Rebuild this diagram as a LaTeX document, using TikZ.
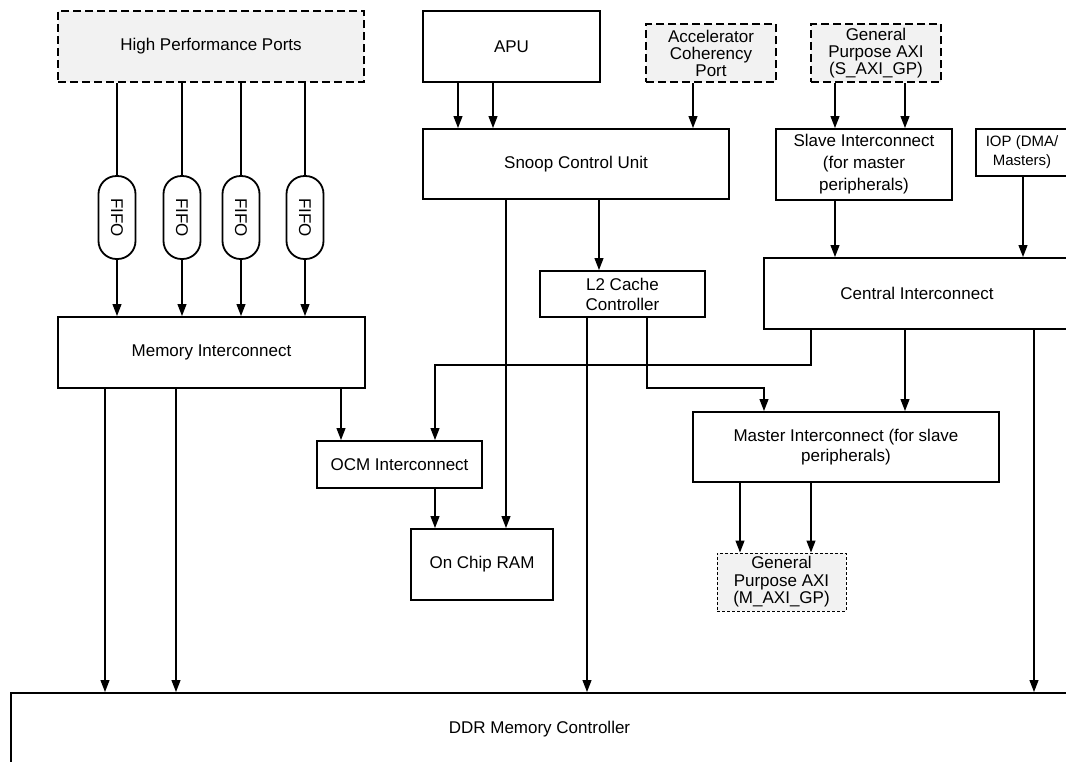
\documentclass[tikz,border=0pt]{standalone}
\usepackage{fontspec}
\setmainfont{Liberation Sans}
\usetikzlibrary{arrows.meta,positioning}

\begin{document}
\begin{tikzpicture}[
    x=1pt, y=-1pt,
    every node/.style={font=\fontsize{17}{17}\selectfont},
    block/.style={
        rectangle, draw=black, line width=2pt, fill=white,
        align=center, inner sep=2pt
    },
    port/.style={
        block, fill=gray!10, line width=2.2pt, dash pattern=on 8pt off 4pt
    },
    smallport/.style={
        block, fill=gray!10, line width=1pt, dash pattern=on 3pt off 2pt
    },
    fifo/.style={
        rectangle, rounded corners=18pt, draw=black, line width=1.8pt,
        minimum width=37pt, minimum height=83pt
    },
    wire/.style={line width=1.2pt},
    arr/.style={wire, -{Triangle[length=12pt,width=9pt]}}
]
\path[use as bounding box] (0,0) rectangle (1066,761);
\clip (0,0) rectangle (1066,761);

% top row
\node[port, minimum width=306pt, minimum height=71pt] (hpp) at (211,46.5) {High Performance Ports};
\node[block, minimum width=177pt, minimum height=71pt] (apu) at (511.5,46.5) {APU};
\node[port, minimum width=130pt, minimum height=58pt] (acp) at (711,53) {Accelerator\\Coherency\\Port};
\node[port, minimum width=130pt, minimum height=58pt] (gps) at (876,53) {General\\Purpose AXI\\(S\_AXI\_GP)};

% second row
\node[block, minimum width=306pt, minimum height=70pt] (scu) at (576,164) {Snoop Control Unit};
\node[block, minimum width=176pt, minimum height=71pt, font=\fontsize{17}{22}\selectfont] (slv) at (864,164.5) {Slave Interconnect\\(for master\\peripherals)};
\node[block, minimum width=92pt, minimum height=47pt, font=\fontsize{15}{19}\selectfont] (iop) at (1022,152.5) {IOP (DMA/\\Masters)};

% FIFOs
\foreach \i/\x in {1/117,2/182,3/241,4/305}
    \node[fifo] (fifo\i) at (\x,217.5) {\rotatebox{-90}{FIFO}};

% interconnects
\node[block, minimum width=165pt, minimum height=46pt, font=\fontsize{17}{20}\selectfont] (l2) at (622.5,294) {L2 Cache\\Controller};
\node[block, minimum width=306pt, minimum height=71pt] (cic) at (917,293.5) {Central Interconnect};
\node[block, minimum width=307pt, minimum height=71pt] (memic) at (211.5,352.5) {Memory Interconnect};
\node[block, minimum width=306pt, minimum height=70pt, font=\fontsize{17}{20}\selectfont] (mic) at (846,447) {Master Interconnect (for slave\\peripherals)};
\node[block, minimum width=165pt, minimum height=47pt] (ocm) at (399.5,464.5) {OCM Interconnect};
\node[block, minimum width=142pt, minimum height=71pt] (ocram) at (482,564.5) {On Chip RAM};
\node[smallport, minimum width=129pt, minimum height=58pt, font=\fontsize{17}{17.5}\selectfont] (gpm) at (781.5,582) {General\\Purpose AXI\\(M\_AXI\_GP)};
\node[block, minimum width=1057pt, minimum height=72pt] (ddr) at (539.5,729) {DDR Memory Controller};

% bends
\coordinate (bend1) at (435,365);
\coordinate (bend2) at (764,388);

% HP ports
\foreach \i in {1,...,4} {
    \draw[wire] (hpp.south -| fifo\i) -- (fifo\i.north);
    \draw[arr] (fifo\i.south) -- (memic.north -| fifo\i);
}

% APU / ACP / GP
\draw[arr] (apu.south -| 458,0) -- (scu.north -| 458,0);
\draw[arr] (apu.south -| 493,0) -- (scu.north -| 493,0);
\draw[arr] (acp.south -| 693,0) -- (scu.north -| 693,0);
\draw[arr] (gps.south -| 835,0) -- (slv.north -| 835,0);
\draw[arr] (gps.south -| 905,0) -- (slv.north -| 905,0);

% SCU
\draw[arr] (scu.south -| 599,0) -- (l2.north -| 599,0);
\draw[arr] (scu.south -| 506,0) -- (ocram.north -| 506,0);

% into central
\draw[arr] (slv.south -| 835,0) -- (cic.north -| 835,0);
\draw[arr] (iop.south -| 1023,0) -- (cic.north -| 1023,0);

% memory interconnect
\draw[arr] (memic.south -| 105,0) -- (ddr.north -| 105,0);
\draw[arr] (memic.south -| 176,0) -- (ddr.north -| 176,0);
\draw[arr] (memic.south -| 341,0) -- (ocm.north -| 341,0);
\draw[arr] (ocm.south -| bend1) -- (ocram.north -| bend1);

% central
\draw[arr] (cic.south -| 811,0) |- (bend1) -- (ocm.north -| bend1);
\draw[arr] (cic.south -| 905,0) -- (mic.north -| 905,0);
\draw[arr] (cic.south -| 1034,0) -- (ddr.north -| 1034,0);

% L2
\draw[arr] (l2.south -| 587,0) -- (ddr.north -| 587,0);
\draw[arr] (l2.south -| 647,0) |- (bend2) -- (mic.north -| bend2);

% master
\draw[arr] (mic.south -| 740,0) -- (gpm.north -| 740,0);
\draw[arr] (mic.south -| 811,0) -- (gpm.north -| 811,0);

\end{tikzpicture}
\end{document}
